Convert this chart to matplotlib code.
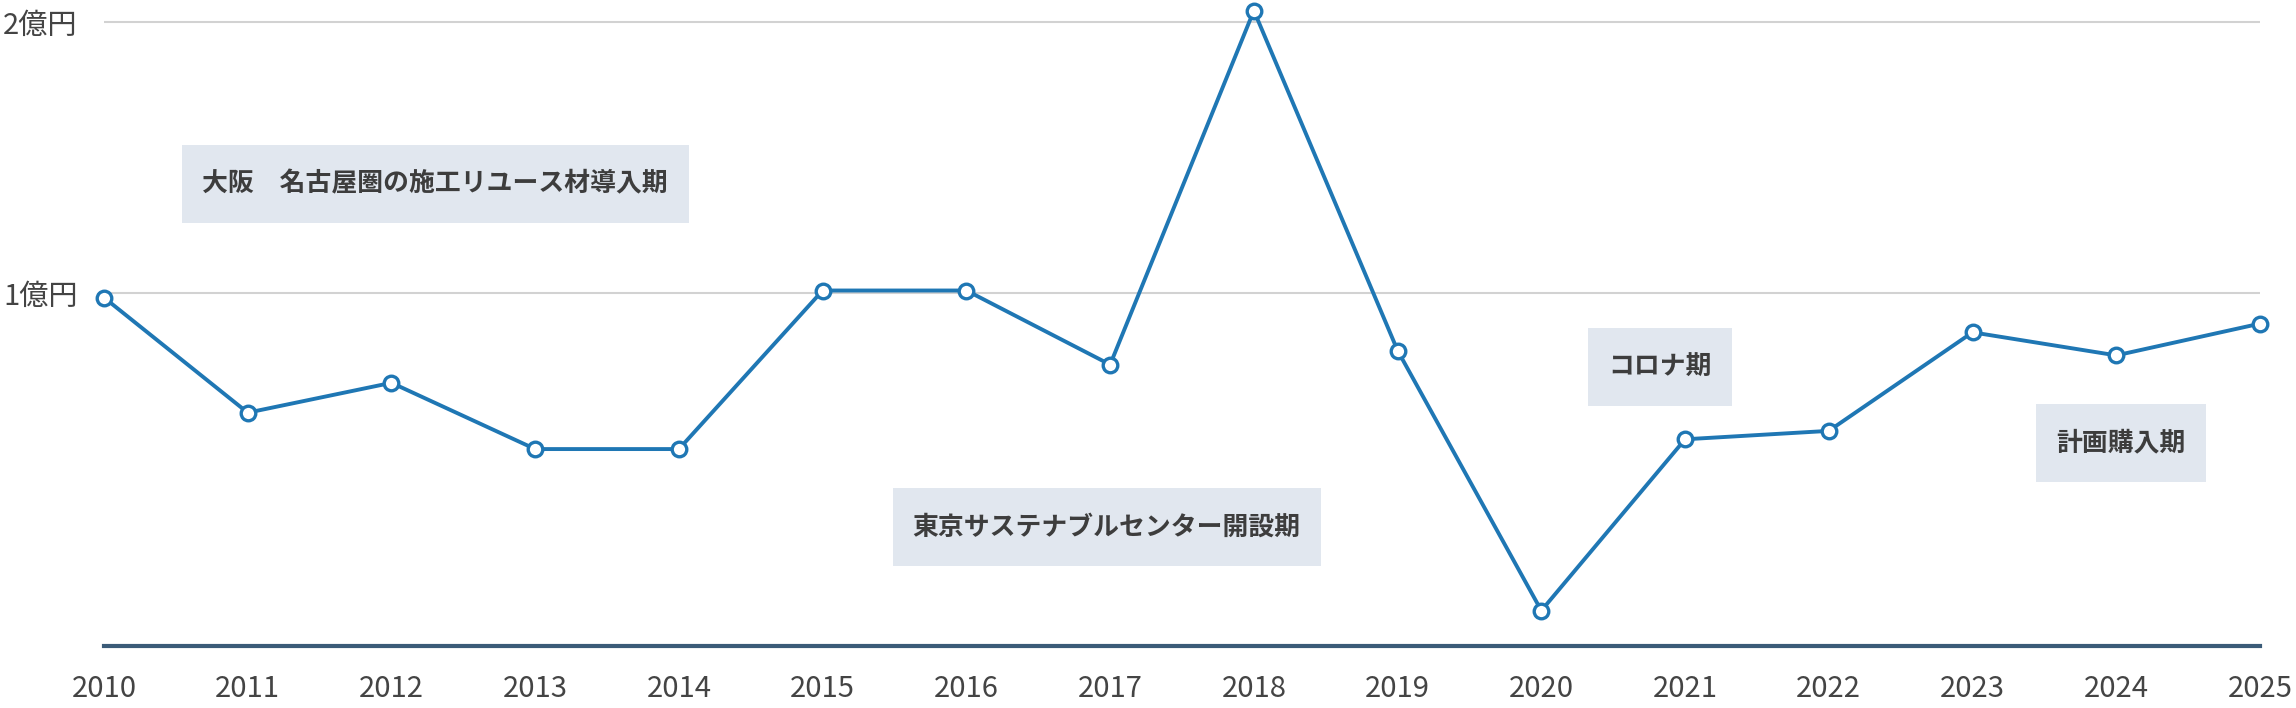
import matplotlib
matplotlib.use('Agg')
import matplotlib.pyplot as plt
from matplotlib.patches import Rectangle

plt.rcParams['font.family'] = ['Noto Sans CJK JP', 'DejaVu Sans']

# data (unit: 億円)
years = list(range(2010, 2026))
values = [0.985, 0.561, 0.671, 0.427, 0.427, 1.011, 1.011, 0.738,
          2.042, 0.790, -0.168, 0.463, 0.494, 0.857, 0.772, 0.889]
ytick_vals = [1, 2]
ytick_labels = ['1億円', '2億円']
periods = ['大阪\u3000名古屋圏の施工リユース材導入期',
           '東京サステナブルセンター開設期',
           'コロナ期',
           '計画購入期']

W, H = 2296, 708
fig = plt.figure(figsize=(W / 100, H / 100), dpi=100)
ax = fig.add_axes([104 / W, 62.5 / H, (2260 - 104) / W, 645.5 / H])

ax.plot(years, values, color='#1f77b4', lw=2.8, marker='o', markersize=10.5,
        markerfacecolor='white', markeredgecolor='#1f77b4', markeredgewidth=2.4,
        clip_on=False, zorder=3)

ax.set_xlim(2010 + 3 / 144, 2025)
ax.set_ylim(-0.2965, 2.081)

ax.set_xticks(years)
ax.set_xticklabels([str(y) for y in years])
ax.set_yticks(ytick_vals)
ax.set_yticklabels(ytick_labels)

ax.grid(axis='y', color='#d2d2d2', lw=1.5)
ax.set_axisbelow(True)

for s in ['top', 'right', 'left']:
    ax.spines[s].set_visible(False)
ax.spines['bottom'].set_color('#3b5b78')
ax.spines['bottom'].set_linewidth(3)

ax.tick_params(axis='x', length=0, pad=31, labelsize=21, labelcolor='#444444')
ax.tick_params(axis='y', length=0, pad=72.5, labelsize=21, labelcolor='#444444')
for t in ax.get_xticklabels():
    t.set_verticalalignment('center')
for t in ax.get_yticklabels():
    t.set_horizontalalignment('left')

# period boxes: center x, center y, width (pixels from top-left)
box_specs = [(435, 184, 507), (1106.7, 527, 428), (1660, 367, 144), (2120.8, 443, 170)]
box_h = 78
for label, (cx, cy, bw) in zip(periods, box_specs):
    fig.add_artist(Rectangle(((cx - bw / 2) / W, 1 - (cy + box_h / 2) / H), bw / W, box_h / H,
                             transform=fig.transFigure, facecolor='#e1e7ef',
                             edgecolor='none', zorder=1))
    fig.text(cx / W, 1 - cy / H, label, ha='center', va='center', fontsize=18.6,
             fontweight='bold', color='#3d3d3d', zorder=2)

fig.savefig('out.png', dpi=100)
